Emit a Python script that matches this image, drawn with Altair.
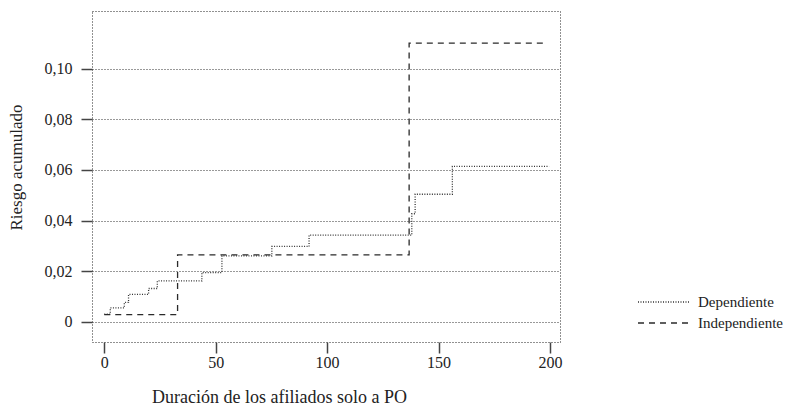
import altair as alt
import pandas as pd

# Data
dep_t = [0, 2.7, 9.0, 10.9, 19.9, 23.8, 43.8, 52.8, 75.2, 91.9, 138.0, 139.5, 156.2, 199.6]
dep_v = [0.0031, 0.0056, 0.0077, 0.0109, 0.0132, 0.0162, 0.0195, 0.0261, 0.0298, 0.0343, 0.0427, 0.0504, 0.0614, 0.0614]
ind_t = [0, 32.9, 136.8, 197.0]
ind_v = [0.0029, 0.0265, 0.1100, 0.1100]
series = ["Dependiente", "Independiente"]
x_ticks = [0, 50, 100, 150, 200]
y_ticks = [0, 0.02, 0.04, 0.06, 0.08, 0.10]

rows = []
for t, v in zip(dep_t, dep_v):
    rows.append({"t": t, "v": v, "serie": series[0]})
for t, v in zip(ind_t, ind_v):
    rows.append({"t": t, "v": v, "serie": series[1]})
df = pd.DataFrame(rows)

FONT = "Liberation Serif"

legend_opts = dict(title=None, orient="none", legendX=545, legendY=283,
                   symbolType="stroke", symbolSize=2704, clipHeight=16,
                   symbolStrokeWidth=1.3, labelFont=FONT,
                   labelFontSize=15, labelColor="#222",
                   labelOffset=7, rowPadding=5, padding=0)

chart = alt.Chart(df).mark_line(interpolate="step-after", strokeWidth=1.3).encode(
    x=alt.X("t:Q",
            scale=alt.Scale(domain=[-5.5, 204.5], nice=False, zero=False),
            axis=alt.Axis(values=x_ticks, title="Duración de los afiliados solo a PO",
                          grid=False, domain=False, tickSize=11, tickWidth=1.5,
                          tickColor="#444", labelPadding=1, labelFontSize=16,
                          labelFont=FONT, labelColor="#222",
                          titleFont=FONT, titleFontSize=18, titleFontWeight="normal",
                          titleColor="#222", titleX=187, titleY=60,
                          titleAlign="center", titleBaseline="alphabetic")),
    y=alt.Y("v:Q",
            scale=alt.Scale(domain=[-0.0079, 0.1227], nice=False, zero=False),
            axis=alt.Axis(values=y_ticks, title="Riesgo acumulado",
                          labelExpr="datum.value == 0 ? '0' : replace(format(datum.value, '.2f'), '.', ',')",
                          grid=True, gridDash=[1, 2], gridColor="#333", gridWidth=1,
                          domain=False, tickSize=11, tickWidth=1.5, tickColor="#444",
                          labelPadding=9, labelFontSize=16, labelFont=FONT, labelColor="#222",
                          titleFont=FONT, titleFontSize=17, titleFontWeight="normal",
                          titleColor="#222", titleX=-75.5, titleY=156,
                          titleAlign="center", titleBaseline="middle", titleAngle=-90)),
    strokeDash=alt.StrokeDash("serie:N",
                              scale=alt.Scale(domain=series, range=[[1, 1.5], [6, 5]]),
                              legend=alt.Legend(**legend_opts)),
    color=alt.Color("serie:N",
                    scale=alt.Scale(domain=series, range=["#333333", "#2a2a2a"]),
                    legend=alt.Legend(**legend_opts)),
).properties(
    width=468, height=331,
    autosize=alt.AutoSizeParams(type="none"),
    padding={"left": 92, "top": 11, "right": 230, "bottom": 64},
    background="white",
).configure_view(
    stroke="#222", strokeDash=[1, 2], strokeWidth=1
)

chart.save("out.html", embed_options={"renderer": "svg", "actions": False})
